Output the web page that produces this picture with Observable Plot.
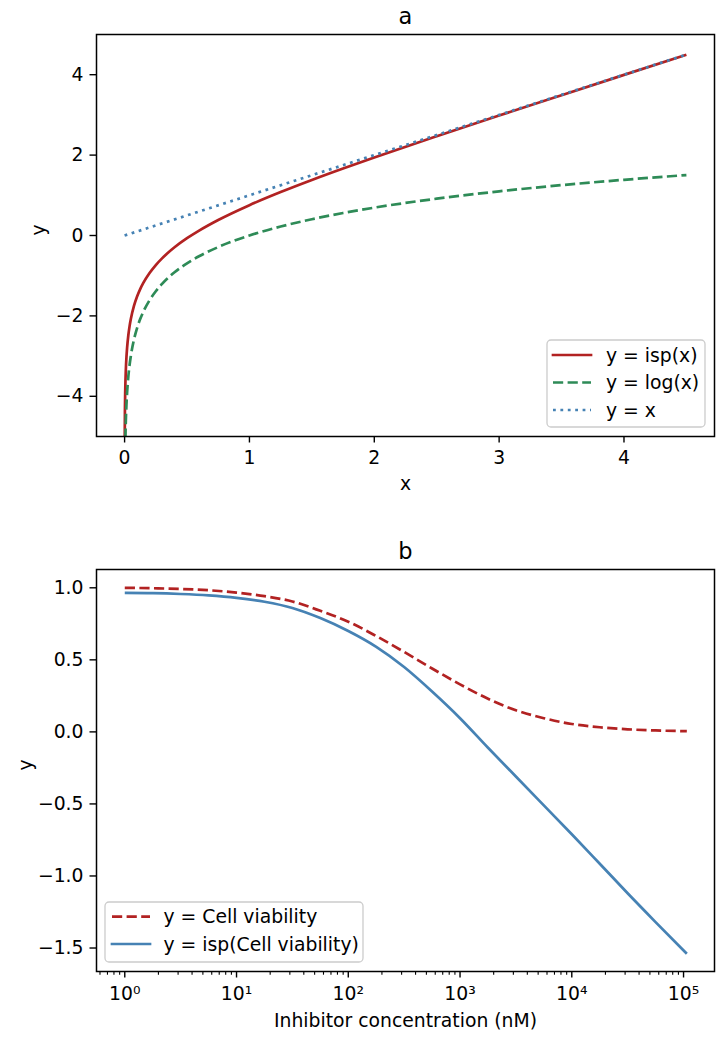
<!DOCTYPE html>
<html><head><meta charset="utf-8">
<script src="https://cdn.jsdelivr.net/npm/d3@7"></script>
<script src="https://cdn.jsdelivr.net/npm/@observablehq/plot@0.6"></script>
<style>
body{margin:0;background:#fff;}
#wrap{position:relative;width:727px;height:1040px;background:#fff;font-family:"DejaVu Sans";}
#wrap > svg{position:absolute;left:0;}
</style></head><body><div id="wrap"></div>
<script>
// ---- Panel a data ----
const xA = [0.0005, 0.001, 0.003, 0.005, 0.007, 0.01, 0.015, 0.02, 0.03, 0.04, 0.05, 0.075, 0.1, 0.125, 0.15, 0.2, 0.25, 0.3, 0.35, 0.4, 0.5, 0.6, 0.75, 1, 1.25, 1.5, 1.75, 2, 2.5, 3, 3.5, 4, 4.5];
const ispA = [-5.645, -5.112, -4.265, -3.871, -3.612, -3.336, -3.021, -2.797, -2.481, -2.254, -2.078, -1.753, -1.519, -1.334, -1.181, -0.934, -0.736, -0.569, -0.424, -0.294, -0.068, 0.128, 0.386, 0.755, 1.081, 1.382, 1.667, 1.941, 2.469, 2.984, 3.491, 3.995, 4.498];
const logA = [-7.601, -6.908, -5.809, -5.298, -4.962, -4.605, -4.200, -3.912, -3.507, -3.219, -2.996, -2.590, -2.303, -2.079, -1.897, -1.609, -1.386, -1.204, -1.050, -0.916, -0.693, -0.511, -0.288, 0.000, 0.223, 0.405, 0.560, 0.693, 0.916, 1.099, 1.253, 1.386, 1.504];
const xIdent = [0, 4.5];
const yIdent = [0, 4.5];
const xTicksA = [0, 1, 2, 3, 4];
const yTicksA = [-4, -2, 0, 2, 4];
const legendA = ["y = isp(x)", "y = log(x)", "y = x"];

// ---- Panel b data ----
const concB = [1, 1.78, 3.16, 5.62, 10, 17.8, 31.6, 56.2, 100, 178, 316, 562, 1000, 1780, 3160, 5620, 10000, 17800, 31600, 56200, 107000];
const viabB = [1.000, 0.997, 0.992, 0.983, 0.967, 0.942, 0.905, 0.840, 0.765, 0.665, 0.555, 0.440, 0.330, 0.230, 0.150, 0.095, 0.055, 0.032, 0.018, 0.010, 0.005];
const ispB = [0.965, 0.963, 0.957, 0.947, 0.930, 0.903, 0.860, 0.790, 0.700, 0.590, 0.450, 0.280, 0.095, -0.110, -0.310, -0.510, -0.710, -0.915, -1.120, -1.320, -1.540];
const xTicksB = [1, 10, 100, 1000, 10000, 100000];
const xTickLabelsB = ["10⁰", "10¹", "10²", "10³", "10⁴", "10⁵"];
const yTicksB = [1.0, 0.5, 0.0, -0.5, -1.0, -1.5];
const legendB = ["y = Cell viability", "y = isp(Cell viability)"];

const RED = "#b22222", GREEN = "#2e8b57", BLUE = "#4682b4";
const LW = 2.7;
const DASH = "10.2,4.4", DOT = "2.8,4.6";
const FONT = "DejaVu Sans";
const FS = 18.8;
const style = {fontFamily: FONT, fontSize: FS + "px", background: "transparent", overflow: "visible", color: "black"};

const wrap = document.getElementById("wrap");

// Panel a
const plotA = Plot.plot({
  width: 727, height: 500,
  marginLeft: 96, marginRight: 13, marginTop: 34, marginBottom: 64,
  style,
  x: {domain: [-0.225, 4.725]},
  y: {domain: [-5, 5]},
  marks: [
    Plot.axisX({ticks: xTicksA, tickFormat: d3.format("d"), tickSize: 6.5, tickPadding: 7.5, strokeWidth: 1.4, label: null}),
    Plot.axisY({ticks: yTicksA, tickFormat: d3.format("d"), tickSize: 6.5, tickPadding: 6.5, strokeWidth: 1.4, label: null}),
    Plot.line(xA, {x: xA, y: ispA, stroke: RED, strokeWidth: LW, strokeLinecap: "butt", curve: "monotone-x", clip: true}),
    Plot.line(xA, {x: xA, y: logA, stroke: GREEN, strokeWidth: LW, strokeDasharray: DASH, strokeLinecap: "butt", curve: "monotone-x", clip: true}),
    Plot.line(xIdent, {x: xIdent, y: yIdent, stroke: BLUE, strokeWidth: LW, strokeDasharray: DOT, strokeLinecap: "butt", clip: true}),
    Plot.text(["a"], {frameAnchor: "top", dy: -11, lineAnchor: "bottom", fontSize: 22.5}),
    Plot.text(["x"], {frameAnchor: "bottom", dy: 53, lineAnchor: "bottom", fontSize: FS}),
    Plot.text(["y"], {frameAnchor: "left", dx: -58, rotate: -90, lineAnchor: "middle", fontSize: FS}),
    Plot.frame({stroke: "black", strokeWidth: 1.5})
  ]
});
plotA.style.top = "0px";
wrap.appendChild(plotA);

// Panel b
const lo = Math.pow(10, -0.253), hi = Math.pow(10, 5.277);
const minorB = [];
for (const t of [0.1, ...xTicksB]) for (let k = 2; k <= 9; k++) { const v = t * k; if (v > lo && v < hi) minorB.push(v); }
const plotB = Plot.plot({
  width: 727, height: 540,
  marginLeft: 96, marginRight: 13, marginTop: 69, marginBottom: 69,
  style,
  x: {type: "log", domain: [lo, hi]},
  y: {domain: [-1.663, 1.127]},
  marks: [
    Plot.axisX({ticks: minorB, tickFormat: () => "", tickSize: 3.7, strokeWidth: 1.1, label: null}),
    Plot.axisX({ticks: xTicksB, tickFormat: d => xTickLabelsB[xTicksB.indexOf(d)], tickSize: 6.5, tickPadding: 9, strokeWidth: 1.4, label: null}),
    Plot.axisY({ticks: yTicksB, tickFormat: d3.format(".1f"), tickSize: 6.5, tickPadding: 6.5, strokeWidth: 1.4, label: null}),
    Plot.line(concB, {x: concB, y: viabB, stroke: RED, strokeWidth: LW, strokeDasharray: DASH, strokeLinecap: "butt", curve: "monotone-x", clip: true}),
    Plot.line(concB, {x: concB, y: ispB, stroke: BLUE, strokeWidth: LW, strokeLinecap: "butt", curve: "monotone-x", clip: true}),
    Plot.text(["b"], {frameAnchor: "top", dy: -11, lineAnchor: "bottom", fontSize: 22.5}),
    Plot.text(["Inhibitor concentration (nM)"], {frameAnchor: "bottom", dy: 55, lineAnchor: "bottom", fontSize: FS}),
    Plot.text(["y"], {frameAnchor: "left", dx: -71, rotate: -90, lineAnchor: "middle", fontSize: FS}),
    Plot.frame({stroke: "black", strokeWidth: 1.5})
  ]
});
plotB.style.top = "500px";
wrap.appendChild(plotB);

// Legends (overlay)
const ov = d3.select(wrap).append("svg")
  .attr("width", 727).attr("height", 1040)
  .style("top", "0px").style("pointer-events", "none")
  .attr("font-family", FONT).attr("font-size", FS);

function legend(box, rows, x1, x2, tx, items) {
  ov.append("rect").attr("x", box[0]).attr("y", box[1]).attr("width", box[2]).attr("height", box[3])
    .attr("rx", 4).attr("fill", "rgba(255,255,255,0.8)").attr("stroke", "#cccccc").attr("stroke-width", 1.3);
  items.forEach((it, i) => {
    ov.append("line").attr("x1", x1).attr("x2", x2).attr("y1", rows[i]).attr("y2", rows[i])
      .attr("stroke", it.color).attr("stroke-width", LW).attr("stroke-dasharray", it.dash || null)
      .attr("stroke-linecap", it.dash ? "butt" : "square");
    ov.append("text").attr("x", tx).attr("y", rows[i]).attr("dy", "0.35em").attr("fill", "black").text(it.label);
  });
}
legend([547, 340, 158, 87], [355, 382.5, 410], 553, 591, 606, [
  {label: legendA[0], color: RED},
  {label: legendA[1], color: GREEN, dash: DASH},
  {label: legendA[2], color: BLUE, dash: DOT}
]);
legend([105, 902, 258, 60], [916.7, 944], 112, 150, 163.5, [
  {label: legendB[0], color: RED, dash: DASH},
  {label: legendB[1], color: BLUE}
]);
</script></body></html>
